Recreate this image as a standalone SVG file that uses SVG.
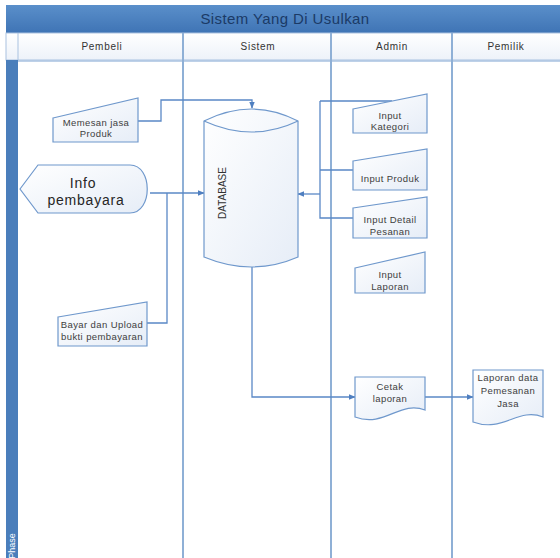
<svg xmlns="http://www.w3.org/2000/svg" width="560" height="558" viewBox="0 0 560 558">
<defs>
<linearGradient id="gTitle" x1="0" y1="0" x2="0" y2="1"><stop offset="0" stop-color="#5a8fca"/><stop offset="1" stop-color="#3f74b5"/></linearGradient>
<linearGradient id="gHead" x1="0" y1="0" x2="0" y2="1"><stop offset="0" stop-color="#ffffff"/><stop offset="1" stop-color="#edf2f9"/></linearGradient>
<linearGradient id="gShape" x1="0" y1="0" x2="1" y2="1"><stop offset="0" stop-color="#ffffff"/><stop offset="1" stop-color="#e6edf7"/></linearGradient>
<marker id="arr" viewBox="0 0 10 10" refX="9" refY="5" markerWidth="7" markerHeight="7" orient="auto" markerUnits="userSpaceOnUse"><path d="M0,1 L10,5 L0,9 Z" fill="#4f7fc0"/></marker>
<style>
.lane{stroke:#8fb0d6;stroke-width:2;fill:none}
.shape{fill:url(#gShape);stroke:#6f98cc;stroke-width:1.2}
.conn{fill:none;stroke:#5a88c6;stroke-width:1.3}
.t{font-family:"Liberation Sans",Arial,sans-serif;fill:#404040;text-anchor:middle}
.s{font-size:9.5px;letter-spacing:0.4px}
.h{font-size:10px;fill:#333333;letter-spacing:0.7px}
</style>
</defs>
<rect x="0" y="0" width="560" height="558" fill="#ffffff"/>
<g id="pool">
<rect x="6" y="5" width="556" height="28" fill="url(#gTitle)"/>
<text x="285" y="24" class="t" style="font-size:15px;fill:#1b3a66;letter-spacing:0.4px">Sistem Yang Di Usulkan</text>
<rect x="6" y="33" width="556" height="27" fill="url(#gHead)" stroke="#a9c2e0" stroke-width="1"/>
<line x1="18" y1="33" x2="18" y2="60" stroke="#a9c2e0" stroke-width="1"/>
<rect x="6" y="60" width="12" height="498" fill="#4a7ebb"/>
<text x="0" y="0" transform="translate(15,546) rotate(-90)" class="t" style="font-size:9px;fill:#ffffff">Phase</text>
<line x1="18" y1="61" x2="560" y2="61" stroke="#a9c2e0" stroke-width="1.5"/>
<line x1="183" y1="33" x2="183" y2="558" class="lane"/>
<line x1="331" y1="33" x2="331" y2="558" class="lane"/>
<line x1="452" y1="33" x2="452" y2="558" class="lane"/>
<text x="102" y="50" class="t h">Pembeli</text>
<text x="258" y="50" class="t h">Sistem</text>
<text x="392" y="50" class="t h">Admin</text>
<text x="506" y="50" class="t h">Pemilik</text>
</g>
<g id="connectors">
<path class="conn" d="M138,121 L161,121 L161,100 L252,100 L252,108" marker-end="url(#arr)"/>
<path class="conn" d="M150,193 L204,193" marker-end="url(#arr)"/>
<path class="conn" d="M147,323 L167,323 L167,193"/>
<path class="conn" d="M320,101 L392,101 M320,101 L320,218 L353,218 M320,170 L353,170"/>
<path class="conn" d="M320,194 L298,194" marker-end="url(#arr)"/>
<path class="conn" d="M252,267 L252,397 L355,397" marker-end="url(#arr)"/>
<path class="conn" d="M425,397 L473,397" marker-end="url(#arr)"/>
</g>
<g id="memesan">
<path class="shape" d="M53,118 L138,98 L138,142 L53,142 Z"/>
<text x="96" y="126" class="t s">Memesan jasa</text>
<text x="96" y="137" class="t s">Produk</text>
</g>
<g id="info">
<path class="shape" d="M20,189 L38,165 L130,165 C153,165 153,213 130,213 L38,213 Z"/>
<text x="83" y="188" class="t" style="font-size:14px;fill:#262626;letter-spacing:0.8px">Info</text>
<text x="86" y="205" class="t" style="font-size:14px;fill:#262626;letter-spacing:0.8px">pembayara</text>
</g>
<g id="bayar">
<path class="shape" d="M58,317 L147,302 L147,346 L58,346 Z"/>
<text x="102" y="328" class="t s">Bayar dan Upload</text>
<text x="102" y="340" class="t s">bukti pembayaran</text>
</g>
<g id="database">
<path class="shape" d="M204,121 Q252,97 298,121 L298,257 Q252,277 204,257 Z"/>
<path d="M204,121 Q252,143 298,121" fill="none" stroke="#6f98cc" stroke-width="1.2"/>
<text x="0" y="0" transform="translate(226,193) rotate(-90)" class="t" style="font-size:10px;fill:#333333">DATABASE</text>
</g>
<g id="inputKategori">
<path class="shape" d="M353,109 L427,94 L427,133 L353,133 Z"/>
<text x="390" y="119" class="t s">Input</text>
<text x="390" y="130" class="t s">Kategori</text>
</g>
<g id="inputProduk">
<path class="shape" d="M353,161 L427,149 L427,190 L353,190 Z"/>
<text x="390" y="182" class="t s">Input Produk</text>
</g>
<g id="inputDetail">
<path class="shape" d="M353,208 L427,197 L427,238 L353,238 Z"/>
<text x="390" y="223" class="t s">Input Detail</text>
<text x="390" y="235" class="t s">Pesanan</text>
</g>
<g id="inputLaporan">
<path class="shape" d="M355,268 L425,252 L425,293 L355,293 Z"/>
<text x="390" y="278" class="t s">Input</text>
<text x="390" y="290" class="t s">Laporan</text>
</g>
<g id="cetak">
<path class="shape" d="M355,377 L425,377 L425,410 C400,400 385,428 355,417 Z"/>
<text x="390" y="390" class="t s">Cetak</text>
<text x="390" y="402" class="t s">laporan</text>
</g>
<g id="laporanData">
<path class="shape" d="M473,370 L543,370 L543,417 C518,407 503,433 473,422 Z"/>
<text x="508" y="381" class="t s">Laporan data</text>
<text x="508" y="394" class="t s">Pemesanan</text>
<text x="508" y="407" class="t s">Jasa</text>
</g>
</svg>
